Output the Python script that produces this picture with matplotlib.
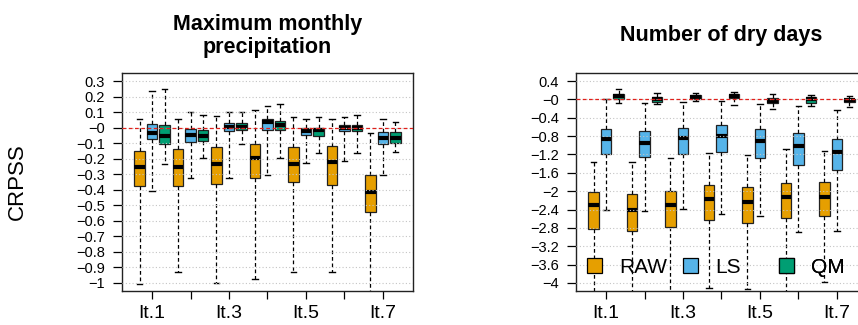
import numpy as np
import matplotlib
matplotlib.use("Agg")
import matplotlib.pyplot as plt
from matplotlib.patches import Patch
from matplotlib.ticker import FuncFormatter

plt.rcParams['font.family'] = ['Liberation Sans', 'DejaVu Sans']

# ---- data -------------------------------------------------------------
lead_labels = ["It.1", "It.2", "It.3", "It.4", "It.5", "It.6", "It.7"]
methods = ["RAW", "LS", "QM"]
method_colors = ["#E69F00", "#56B4E9", "#009E73"]

# Maximum monthly precipitation: whisker low, Q1, median, Q3, whisker high
mmp_raw_lo = [-1.006, -0.93, -1.0, -0.975, -0.93, -0.93, -1.06]
mmp_raw_q1 = [-0.377, -0.377, -0.36, -0.323, -0.352, -0.367, -0.545]
mmp_raw_med = [-0.255, -0.255, -0.233, -0.196, -0.233, -0.222, -0.414]
mmp_raw_q3 = [-0.153, -0.136, -0.123, -0.108, -0.123, -0.115, -0.308]
mmp_raw_hi = [0.055, 0.055, 0.072, 0.113, 0.07, 0.057, -0.033]

mmp_ls_lo = [-0.405, -0.323, -0.323, -0.308, -0.227, -0.216, -0.308]
mmp_ls_q1 = [-0.072, -0.093, -0.02, -0.016, -0.05, -0.022, -0.108]
mmp_ls_med = [-0.033, -0.05, 0.006, 0.035, -0.022, 0.0, -0.065]
mmp_ls_q3 = [0.022, -0.007, 0.03, 0.057, 0.0, 0.02, -0.029]
mmp_ls_hi = [0.236, 0.1, 0.104, 0.139, 0.057, 0.07, 0.057]

mmp_qm_lo = [-0.233, -0.196, -0.104, -0.194, -0.162, -0.162, -0.158]
mmp_qm_q1 = [-0.104, -0.089, -0.016, -0.016, -0.055, -0.02, -0.098]
mmp_qm_med = [-0.052, -0.052, 0.005, 0.02, -0.018, 0.0, -0.065]
mmp_qm_q3 = [0.02, -0.016, 0.03, 0.046, 0.0, 0.02, -0.029]
mmp_qm_hi = [0.25, 0.079, 0.104, 0.15, 0.07, 0.079, 0.036]

# Number of dry days
ndd_raw_lo = [-4.25, -4.25, -4.25, -4.11, -4.14, -4.25, -3.97]
ndd_raw_q1 = [-2.82, -2.87, -2.79, -2.63, -2.69, -2.58, -2.55]
ndd_raw_med = [-2.31, -2.42, -2.31, -2.18, -2.24, -2.12, -2.12]
ndd_raw_q3 = [-2.02, -2.07, -2.0, -1.86, -1.9, -1.83, -1.8]
ndd_raw_hi = [-1.36, -1.36, -1.28, -1.16, -1.22, -1.09, -1.13]

ndd_ls_lo = [-2.4, -2.44, -2.38, -2.49, -2.55, -2.9, -2.87]
ndd_ls_q1 = [-1.18, -1.25, -1.19, -1.14, -1.28, -1.42, -1.53]
ndd_ls_med = [-0.86, -0.95, -0.84, -0.79, -0.91, -1.02, -1.15]
ndd_ls_q3 = [-0.64, -0.69, -0.62, -0.55, -0.64, -0.74, -0.86]
ndd_ls_hi = [0.0, -0.07, -0.05, -0.04, -0.11, -0.15, -0.23]

ndd_qm_lo = [-0.07, -0.09, -0.04, -0.13, -0.2, -0.15, -0.16]
ndd_qm_q1 = [0.0, -0.06, 0.0, 0.036, -0.07, -0.08, -0.058]
ndd_qm_med = [0.075, 0.0, 0.05, 0.073, -0.03, 0.0, -0.02]
ndd_qm_q3 = [0.125, 0.05, 0.087, 0.11, 0.036, 0.05, 0.02]
ndd_qm_hi = [0.22, 0.14, 0.145, 0.16, 0.11, 0.09, 0.085]

panels = [
    {
        "title": "Maximum monthly\nprecipitation",
        "ylim": (-1.0, 0.3),
        "yticks": np.round(np.arange(-1.0, 0.31, 0.1), 1),
        "stats": [
            (mmp_raw_lo, mmp_raw_q1, mmp_raw_med, mmp_raw_q3, mmp_raw_hi),
            (mmp_ls_lo, mmp_ls_q1, mmp_ls_med, mmp_ls_q3, mmp_ls_hi),
            (mmp_qm_lo, mmp_qm_q1, mmp_qm_med, mmp_qm_q3, mmp_qm_hi),
        ],
    },
    {
        "title": "Number of dry days",
        "ylim": (-4.0, 0.4),
        "yticks": np.round(np.arange(-4.0, 0.41, 0.4), 1),
        "stats": [
            (ndd_raw_lo, ndd_raw_q1, ndd_raw_med, ndd_raw_q3, ndd_raw_hi),
            (ndd_ls_lo, ndd_ls_q1, ndd_ls_med, ndd_ls_q3, ndd_ls_hi),
            (ndd_qm_lo, ndd_qm_q1, ndd_qm_med, ndd_qm_q3, ndd_qm_hi),
        ],
    },
]

# ---- figure -----------------------------------------------------------
W, H = 858, 325
fig = plt.figure(figsize=(W / 100, H / 100), dpi=100)
ax_w = 291 / W
ax_b = (H - 291) / H
ax_h = 218 / H
axes = [fig.add_axes([122 / W, ax_b, ax_w, ax_h]),
        fig.add_axes([576 / W, ax_b, ax_w, ax_h])]

offsets = [-0.325, 0.0, 0.325]
box_w = 0.27
groups = np.arange(1, len(lead_labels) + 1)


def r_fmt(v, pos):
    s = f"{v:g}"
    return s.replace("-", "\u2212")


for ax, panel in zip(axes, panels):
    lo_lim, hi_lim = panel["ylim"]
    ext = 0.04 * (hi_lim - lo_lim)
    ax.set_ylim(lo_lim - ext, hi_lim + ext)
    ax.set_xlim(0.22, 7.78)

    for (lo, q1, med, q3, hi), col, off in zip(panel["stats"], method_colors, offsets):
        bstats = [dict(whislo=a, q1=b, med=c, q3=d, whishi=e, fliers=[])
                  for a, b, c, d, e in zip(lo, q1, med, q3, hi)]
        ax.bxp(bstats, positions=groups + off, widths=box_w,
               patch_artist=True, showfliers=False, manage_ticks=False,
               capwidths=box_w * 0.5,
               boxprops=dict(facecolor=col, edgecolor="#222222", linewidth=0.9),
               medianprops=dict(color="black", linewidth=3.0, solid_capstyle="butt"),
               whiskerprops=dict(color="black", linewidth=0.9, linestyle=(0, (3, 2.2))),
               capprops=dict(color="black", linewidth=1.0))

    # dotted horizontal guides and the zero-skill reference line
    for yv in panel["yticks"]:
        ax.axhline(yv, color="#c4c4c4", linewidth=0.8, linestyle=(0, (1, 2)), zorder=3.5)
    ax.axhline(0, color="#e0201b", linewidth=0.9, linestyle=(0, (3, 2)), zorder=4)

    ax.set_yticks(panel["yticks"])
    ax.yaxis.set_major_formatter(FuncFormatter(r_fmt))
    ax.set_xticks(groups)
    ax.set_xticklabels([lab if i % 2 == 0 else "" for i, lab in enumerate(lead_labels)])
    ax.tick_params(axis="y", labelsize=10.5, length=6.5, width=0.9, pad=6, colors="black")
    ax.tick_params(axis="x", labelsize=14, length=6, width=0.9, pad=4, colors="black")
    for sp in ax.spines.values():
        sp.set_linewidth(1.0)
        sp.set_color("#222222")

    ax.text(0.5, 1.17, panel["title"], transform=ax.transAxes, ha="center", va="center",
            fontsize=15.5, fontweight="bold", linespacing=1.15)

axes[0].set_ylabel("CRPSS", fontsize=16)
axes[0].yaxis.set_label_coords(-0.325, 0.5)

# legend entries laid out in equally wide slots along the bottom of the right panel
slot = 96 / 291
for k, (m, c) in enumerate(zip(methods, method_colors)):
    leg = axes[1].legend(handles=[Patch(facecolor=c, edgecolor="black", linewidth=0.9, label=m)],
                         frameon=False, loc="center left",
                         bbox_to_anchor=(0.038 + k * slot, 0.11), borderaxespad=0, borderpad=0,
                         fontsize=15, handlelength=0.7, handleheight=0.7,
                         handletextpad=0.85)
    axes[1].add_artist(leg)

fig.savefig("out.png", dpi=100)
